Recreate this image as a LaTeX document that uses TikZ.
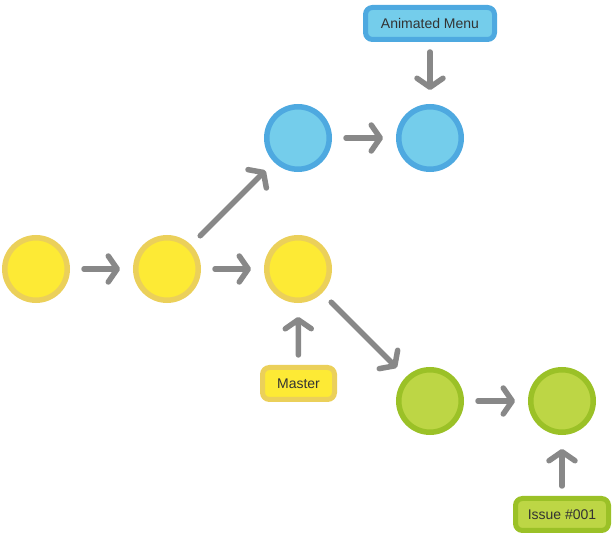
\documentclass[tikz,border=0pt]{standalone}
\usepackage{fontspec}
\setmainfont{Liberation Sans}
\usetikzlibrary{arrows.meta}
\definecolor{yfill}{HTML}{FDEA35}
\definecolor{ydraw}{HTML}{EBD05A}
\definecolor{bfill}{HTML}{74CDEB}
\definecolor{bdraw}{HTML}{4EA9E0}
\definecolor{gfill}{HTML}{BDD645}
\definecolor{gdraw}{HTML}{9BC127}
\definecolor{arrgray}{HTML}{888888}
\definecolor{txt}{HTML}{333333}
\begin{document}
\begin{tikzpicture}[x=1pt,y=-1pt,
  commit/.style={circle,line width=5.5pt,minimum size=62.5pt,inner sep=0pt},
  ycommit/.style={commit,draw=ydraw,fill=yfill},
  bcommit/.style={commit,draw=bdraw,fill=bfill},
  gcommit/.style={commit,draw=gdraw,fill=gfill},
  tag/.style={rounded corners=7pt,line width=5pt,inner sep=0pt,minimum height=32pt,
    font=\fontsize{14}{16}\selectfont,text=txt},
  ytag/.style={tag,draw=ydraw,fill=yfill},
  btag/.style={tag,draw=bdraw,fill=bfill},
  gtag/.style={tag,draw=gdraw,fill=gfill},
  arr/.style={draw=arrgray,line width=5.5pt,line cap=round,
    -{Straight Barb[length=9pt,width=26pt,round]}},
]
\useasboundingbox (0,0) rectangle (614,537);
\node[ycommit] (y1) at (36,269) {};
\node[ycommit] (y2) at (167,269) {};
\node[ycommit] (y3) at (298,269) {};
\node[bcommit] (b1) at (298,138) {};
\node[bcommit] (b2) at (430,138) {};
\node[gcommit] (g1) at (430,401) {};
\node[gcommit] (g2) at (562,401) {};
\node[btag,minimum width=129pt] (menu) at (430,23.5) {Animated Menu};
\node[ytag,minimum width=72pt] (master) at (298.5,383.5) {Master};
\node[gtag,minimum width=93pt] (issue) at (562,514.5) {Issue \#001};
\draw[arr,shorten <=14pt,shorten >=13pt] (y1) -- (y2);
\draw[arr,shorten <=14pt,shorten >=13pt] (y2) -- (y3);
\draw[arr,shorten <=14pt,shorten >=13pt] (b1) -- (b2);
\draw[arr,shorten <=14pt,shorten >=13pt] (g1) -- (g2);
\draw[arr,shorten <=13pt,shorten >=12pt] (y2) -- (b1);
\draw[arr,shorten <=13pt,shorten >=13pt] (y3) -- (g1);
\draw[arr,shorten <=10pt,shorten >=14pt] (master) -- (y3);
\draw[arr,shorten <=10pt,shorten >=14pt] (issue) -- (g2);
\draw[arr,shorten <=10pt,shorten >=14pt] (menu) -- (b2);
\end{tikzpicture}
\end{document}
